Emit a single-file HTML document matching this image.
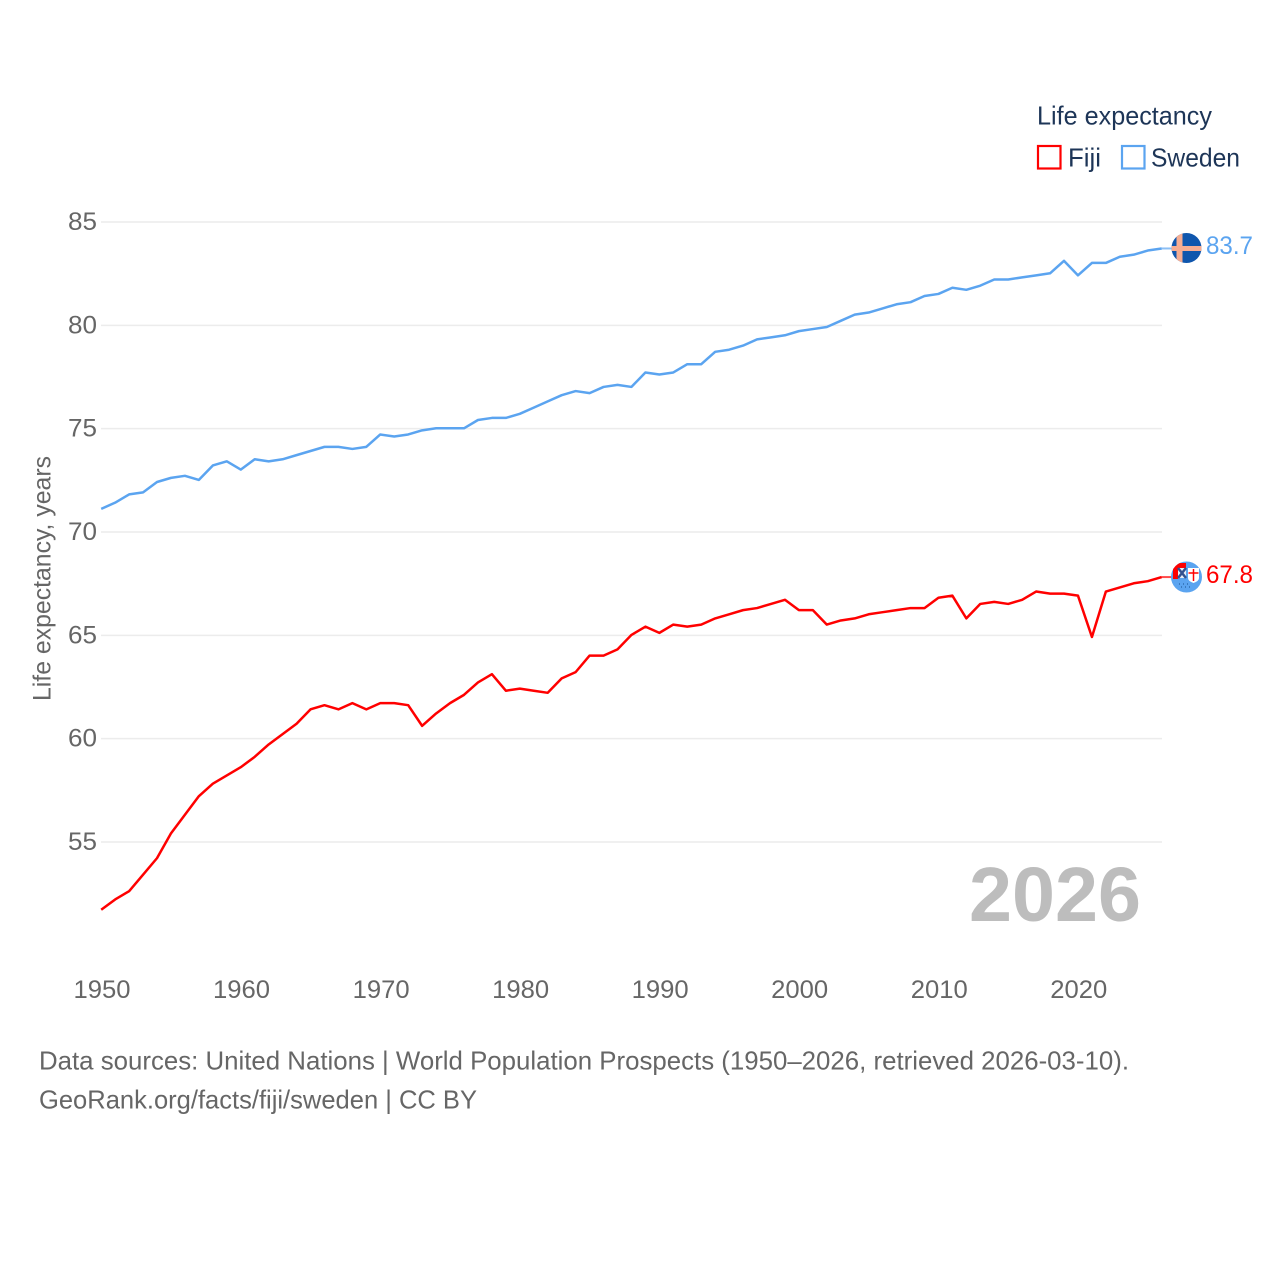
<!DOCTYPE html>
<html lang="en">
<head>
<meta charset="utf-8">
<title>Life expectancy: Fiji and Sweden</title>
<style>
html,body{margin:0;padding:0;background:#fff;}
svg{display:block;}
text{font-family:"Liberation Sans",sans-serif;}
</style>
</head>
<body>
<svg id="chart" xmlns="http://www.w3.org/2000/svg" width="1280" height="1280" viewBox="0 0 1280 1280">
  <rect width="1280" height="1280" fill="#fff"/>
  <g id="grid"></g>
  <g id="yticks"></g>
  <g id="xticks"></g>
  <text transform="translate(50.500,701) rotate(-90)" font-size="25" fill="#666" textLength="245" lengthAdjust="spacingAndGlyphs">Life expectancy, years</text>
  <text x="969" y="921" font-size="77" font-weight="bold" fill="#bdbdbd" textLength="172" lengthAdjust="spacingAndGlyphs">2026</text>
  <g id="series" transform="translate(-0.300,-0.400)"></g>

  <g>
    <text x="1037" y="124.500" font-size="26" fill="#1d3557" textLength="175" lengthAdjust="spacingAndGlyphs">Life expectancy</text>
    <g>
      <rect x="1038" y="146" width="22.500" height="22.500" fill="#fff" stroke="#ff0000" stroke-width="2.200"/>
      <text x="1068" y="166.500" font-size="26" fill="#1d3557" textLength="33" lengthAdjust="spacingAndGlyphs">Fiji</text>
    </g>
    <g>
      <rect x="1122" y="146" width="22.500" height="22.500" fill="#fff" stroke="#5ba4f0" stroke-width="2.200"/>
      <text x="1151" y="166.500" font-size="26" fill="#1d3557" textLength="89" lengthAdjust="spacingAndGlyphs">Sweden</text>
    </g>
  </g>

  <defs>
    <clipPath id="flag-clip-se"><circle cx="1186.500" cy="248" r="15"/></clipPath>
    <clipPath id="flag-clip-fj"><circle cx="1186.500" cy="577" r="15.500"/></clipPath>
  </defs>
  <g clip-path="url(#flag-clip-se)">
    <rect x="1171" y="233" width="31" height="30" fill="#0f56ad"/>
    <rect x="1176.500" y="233" width="6" height="30" fill="#f6ad92"/>
    <rect x="1171" y="246" width="31" height="5" fill="#f6ad92"/>
  </g>
  <g clip-path="url(#flag-clip-fj)">
    <rect x="1171" y="561" width="31" height="32" fill="#5ba4f0"/>
    <path d="M1173 579V568Q1173 563 1178 563H1186V568H1178V579Z" fill="#ff0000"/>
    <rect x="1178" y="568" width="8" height="10" fill="#e9eef6"/>
    <path d="M1178 568L1186 578M1186 568L1178 578" stroke="#33508f" stroke-width="2.500"/>
    <path d="M1188 568H1199V578Q1199 581 1193.500 583Q1188 581 1188 578Z" fill="#fff"/>
    <path d="M1193.500 569V581M1188.500 573H1198.500" stroke="#ff0000" stroke-width="1.500"/>
    <path d="M1179 584h1M1183 584h1M1187 584h1M1181 587h1M1185 587h1M1189 587h1" stroke="#2e6cb0" stroke-width="1.500"/>
  </g>
  <text x="1206" y="254" font-size="25" fill="#5ba4f0" textLength="47" lengthAdjust="spacingAndGlyphs">83.7</text>
  <text x="1206" y="583" font-size="25" fill="#ff0000" textLength="47" lengthAdjust="spacingAndGlyphs">67.8</text>

  <text x="39" y="1069.500" font-size="26" fill="#666" textLength="1090" lengthAdjust="spacingAndGlyphs">Data sources: United Nations | World Population Prospects (1950–2026, retrieved 2026-03-10).</text>
  <text x="39" y="1108.500" font-size="26" fill="#666" textLength="438" lengthAdjust="spacingAndGlyphs">GeoRank.org/facts/fiji/sweden | CC BY</text>
</svg>
<script>
const startYear = 1950;
const yTickValues = [55, 60, 65, 70, 75, 80, 85];
const xTickValues = [1950, 1960, 1970, 1980, 1990, 2000, 2010, 2020];
const swedenValues = [
  71.1,71.4,71.8,71.9,72.4,72.6,72.7,72.5,73.2,73.4,
  73.0,73.5,73.4,73.5,73.7,73.9,74.1,74.1,74.0,74.1,
  74.7,74.6,74.7,74.9,75.0,75.0,75.0,75.4,75.5,75.5,
  75.7,76.0,76.3,76.6,76.8,76.7,77.0,77.1,77.0,77.7,
  77.6,77.7,78.1,78.1,78.7,78.8,79.0,79.3,79.4,79.5,
  79.7,79.8,79.9,80.2,80.5,80.6,80.8,81.0,81.1,81.4,
  81.5,81.8,81.7,81.9,82.2,82.2,82.3,82.4,82.5,83.1,
  82.4,83.0,83.0,83.3,83.4,83.6,83.7
];
const fijiValues = [
  51.7,52.2,52.6,53.4,54.2,55.4,56.3,57.2,57.8,58.2,
  58.6,59.1,59.7,60.2,60.7,61.4,61.6,61.4,61.7,61.4,
  61.7,61.7,61.6,60.6,61.2,61.7,62.1,62.7,63.1,62.3,
  62.4,62.3,62.2,62.9,63.2,64.0,64.0,64.3,65.0,65.4,
  65.1,65.5,65.4,65.5,65.8,66.0,66.2,66.3,66.5,66.7,
  66.2,66.2,65.5,65.7,65.8,66.0,66.1,66.2,66.3,66.3,
  66.8,66.9,65.8,66.5,66.6,66.5,66.7,67.1,67.0,67.0,
  66.9,64.9,67.1,67.3,67.5,67.6,67.8
];

const NS = 'http://www.w3.org/2000/svg';
function xScale(year) { return 101.5 + (year - 1950) * (1162 - 101.5) / 76; }
function yScale(v) { return 222 + (85 - v) * (842 - 222) / 30; }
function make(tag, attrs, parent) {
  const el = document.createElementNS(NS, tag);
  for (const k in attrs) el.setAttribute(k, attrs[k]);
  parent.appendChild(el);
  return el;
}
const gridG = document.getElementById('grid');
const yG = document.getElementById('yticks');
const xG = document.getElementById('xticks');
const seriesG = document.getElementById('series');

yTickValues.forEach(function (v) {
  const line = make('line', { x1: 101, x2: 1162, y1: yScale(v), y2: yScale(v), stroke: '#ececec', 'stroke-width': 1.5 }, gridG);
  
  
  const t = make('text', { x: 97, y: yScale(v) + 8, 'font-size': 25, fill: '#666', 'text-anchor': 'end', textLength: 29, lengthAdjust: 'spacingAndGlyphs' }, yG);
  t.textContent = String(v);
  
  
});

xTickValues.forEach(function (y) {
  const t = make('text', { x: xScale(y) - 28, y: 998, 'font-size': 25, fill: '#666', textLength: 57, lengthAdjust: 'spacingAndGlyphs' }, xG);
  t.textContent = String(y);
  
  
});

function pointsFor(values) {
  return values.map(function (v, i) {
    return xScale(startYear + i).toFixed(2) + ',' + yScale(v).toFixed(2);
  }).join(' ');
}
function drawConnector(values, color, name) {
  const last = values[values.length - 1];
  const c = make('line', { x1: xScale(startYear + values.length - 1), x2: 1172, y1: yScale(last), y2: yScale(last), stroke: color, 'stroke-width': 2, 'stroke-opacity': 0.7 }, seriesG);
  
  
}

drawConnector(swedenValues, '#5ba4f0', 'sweden-connector');
drawConnector(fijiValues, '#ff0000', 'fiji-connector');

const swedenLine = make('polyline', { points: pointsFor(swedenValues), fill: 'none', stroke: '#5ba4f0', 'stroke-width': 2.5, 'stroke-linejoin': 'round' }, seriesG);



const fijiLine = make('polyline', { points: pointsFor(fijiValues), fill: 'none', stroke: '#ff0000', 'stroke-width': 2.5, 'stroke-linejoin': 'round' }, seriesG);


</script>
</body>
</html>
